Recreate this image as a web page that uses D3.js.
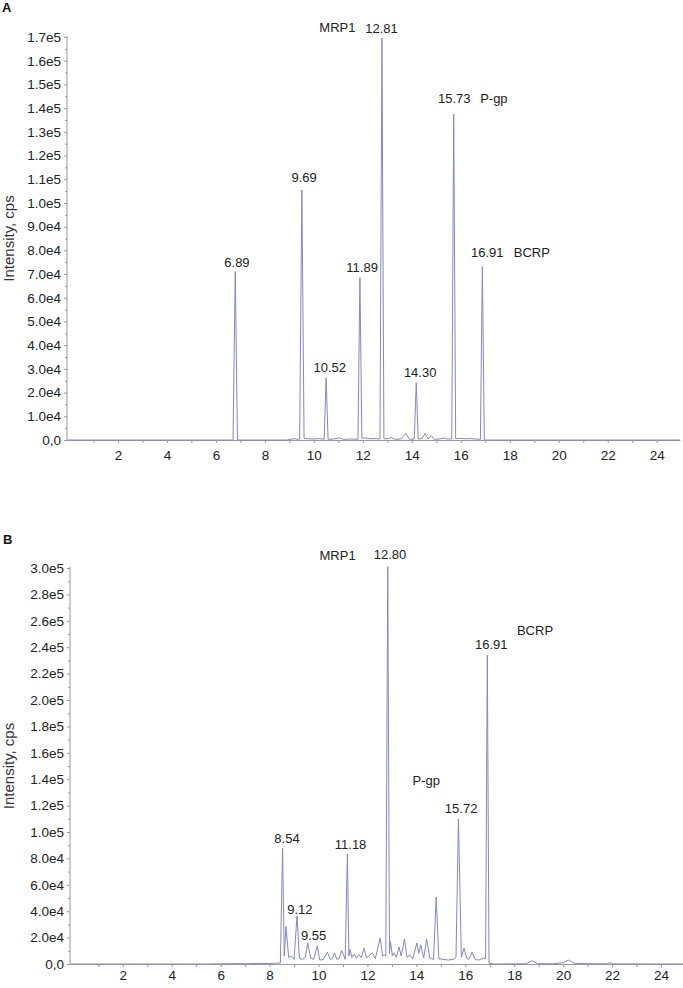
<!DOCTYPE html>
<html>
<head>
<meta charset="utf-8">
<script src="https://cdn.jsdelivr.net/npm/d3@7"></script>
<style>
  body { margin: 0; background: #fff; }
  svg { display: block; font-family: "Liberation Sans", Arial, sans-serif; }
  .axis path, .axis line { stroke: #9a9a9a; }
  .axis text { fill: #222; font-size: 13.5px; }
</style>
</head>
<body>
<svg id="chart" width="683" height="988"></svg>
<script>
// chromatogram A: [time (min), intensity (cps)]
const traceA = [
  [-0.08, 0], [6.70, 0], [6.79, 71000], [6.88, 0],
  [8.9, 0], [9.2, 600], [9.3, 300], [9.42, 500], [9.51, 105500], [9.60, 800],
  [9.8, 500], [10.0, 400], [10.2, 600], [10.42, 300], [10.50, 26300], [10.58, 300],
  [10.8, 400], [11.05, 900], [11.2, 300], [11.5, 400], [11.80, 300], [11.88, 68500],
  [11.96, 700], [12.1, 900], [12.3, 500], [12.5, 600], [12.70, 400], [12.78, 169500],
  [12.86, 500], [13.05, 600], [13.15, 1000], [13.3, 300], [13.55, 400], [13.76, 2700],
  [13.9, 300], [14.10, 400], [14.18, 24200], [14.26, 400], [14.42, 600], [14.54, 2800],
  [14.66, 500], [14.80, 1800], [14.92, 300], [15.1, 400], [15.3, 900], [15.45, 400],
  [15.63, 500], [15.71, 137500], [15.79, 500], [16.0, 700], [16.2, 500], [16.4, 600],
  [16.6, 400], [16.80, 300], [16.88, 73100], [16.96, 0], [18, 0], [24.95, 0]
]

// chromatogram B
const traceB = [
  [-0.16, 0], [5.5, 0], [6.5, 300], [7.0, 200], [7.5, 400], [7.9, 300], [8.2, 500],
  [8.44, 800], [8.53, 87700], [8.60, 6000], [8.67, 28400], [8.78, 5000], [8.90, 6000],
  [9.0, 3500], [9.12, 36500], [9.22, 4000], [9.35, 3500], [9.46, 5000], [9.56, 15900],
  [9.68, 4500], [9.80, 3500], [9.95, 13800], [10.05, 3000], [10.2, 3500], [10.36, 9000],
  [10.48, 3500], [10.56, 4000], [10.65, 8300], [10.75, 3500], [10.85, 4500], [10.95, 10300],
  [11.09, 3500], [11.18, 83400], [11.24, 6000], [11.29, 11000], [11.36, 5000], [11.45, 7500],
  [11.55, 4500], [11.65, 7000], [11.75, 5000], [11.86, 12000], [11.96, 4500], [12.05, 6000],
  [12.2, 8500], [12.32, 4000], [12.52, 19700], [12.62, 6000], [12.68, 7000], [12.75, 6000],
  [12.83, 301000], [12.90, 8000], [12.94, 17100], [13.02, 6000], [13.09, 8500], [13.18, 5000],
  [13.29, 12900], [13.38, 6000], [13.51, 18900], [13.62, 5000], [13.74, 6700], [13.85, 4000],
  [14.02, 15900], [14.10, 8000], [14.18, 14600], [14.30, 4500], [14.42, 18900], [14.55, 4500],
  [14.70, 3500], [14.81, 50700], [14.92, 4000], [15.1, 3500], [15.3, 3000], [15.5, 3500],
  [15.62, 5000], [15.72, 109700], [15.84, 5000], [15.95, 12100], [16.05, 4500], [16.15, 3500],
  [16.28, 9100], [16.40, 3500], [16.55, 3000], [16.74, 4500], [16.83, 4000], [16.90, 234000],
  [16.97, 500], [17.2, 0], [18.5, 200], [18.72, 2500], [18.95, 300], [19.6, 200], [20.0, 1000],
  [20.22, 3000], [20.45, 500], [21.0, 200], [21.8, 200], [21.92, 1000], [22.05, 100], [24.9, 0]
]

// annotations: text, time, intensity of the text baseline
const labelsA = [
  ['6.89', 6.86, 73100], ['9.69', 9.60, 108900], ['10.52', 10.65, 28700],
  ['11.89', 11.97, 71000], ['12.81', 12.76, 171700], ['MRP1', 10.96, 172000],
  ['14.30', 14.34, 26700], ['15.73', 15.73, 142200], ['P-gp', 17.35, 142200],
  ['16.91', 17.08, 77200], ['BCRP', 18.9, 77200]
]
const labelsB = [
  ['MRP1', 10.78, 305800], ['12.80', 12.92, 306600], ['BCRP', 18.85, 249000],
  ['16.91', 17.06, 239000], ['P-gp', 14.40, 135600], ['15.72', 15.83, 114500],
  ['8.54', 8.71, 91800], ['11.18', 11.31, 87200], ['9.12', 9.24, 38000],
  ['9.55', 9.80, 17900]
]

const xTicks = d3.range(1, 25)
const xTickLabels = [2, 4, 6, 8, 10, 12, 14, 16, 18, 20, 22, 24]
const yTicksA = [0, 1e4, 2e4, 3e4, 4e4, 5e4, 6e4, 7e4, 8e4, 9e4, 1e5, 1.1e5, 1.2e5, 1.3e5, 1.4e5, 1.5e5, 1.6e5, 1.7e5]
const yTicksB = [0, 2e4, 4e4, 6e4, 8e4, 1e5, 1.2e5, 1.4e5, 1.6e5, 1.8e5, 2e5, 2.2e5, 2.4e5, 2.6e5, 2.8e5, 3e5]

const svg = d3.select('#chart')
const sci = d3.format('.1e')
const fmtY = v => (v === 0 ? '0,0' : sci(v).replace('+', ''))

const drawPanel = p => {
  const x = d3.scaleLinear().domain(p.xDomain).range(p.xRange)
  const y = d3.scaleLinear().domain([0, p.yMax]).range(p.yRange)
  const g = svg.append('g')

  // minor y ticks halfway between the labelled ones
  const step = p.yTicks[1] - p.yTicks[0]
  const minor = p.yTicks.slice(0, -1).map(v => v + step / 2)

  g.append('g')
    .attr('class', 'axis')
    .attr('transform', `translate(${p.xRange[0]},0)`)
    .call(d3.axisLeft(y).tickValues(minor).tickSize(2).tickFormat(''))
    .select('.domain').remove()

  g.append('g')
    .attr('class', 'axis')
    .attr('transform', `translate(${p.xRange[0]},0)`)
    .call(d3.axisLeft(y).tickValues(p.yTicks).tickSize(3).tickSizeOuter(0).tickPadding(3).tickFormat(fmtY))
    .select('.domain').attr('d', `M0,${p.yRange[0]}V${p.yRange[1] - 1}`)

  g.append('g')
    .attr('class', 'axis')
    .attr('transform', `translate(0,${p.yRange[0]})`)
    .call(
      d3.axisBottom(x).tickValues(xTicks).tickSize(3).tickSizeOuter(0).tickPadding(p.xPad)
        .tickFormat(d => (xTickLabels.includes(d) ? d : ''))
    )

  g.append('path')
    .datum(p.trace)
    .attr('fill', 'none')
    .attr('stroke', '#8588c0')
    .attr('stroke-width', 1)
    .attr('d', d3.line().x(d => x(d[0])).y(d => y(d[1])))

  g.selectAll('text.peak')
    .data(p.labels)
    .enter()
    .append('text')
    .attr('class', 'peak')
    .attr('x', d => x(d[1]))
    .attr('y', d => y(d[2]))
    .attr('text-anchor', 'middle')
    .attr('font-size', 13)
    .attr('fill', '#222')
    .text(d => d[0])

  const mid = (p.yRange[0] + p.yRange[1]) / 2
  g.append('text')
    .attr('transform', `translate(14,${mid}) rotate(-90)`)
    .attr('text-anchor', 'middle')
    .attr('font-size', 15)
    .attr('fill', '#333')
    .text('Intensity, cps')

  g.append('text')
    .attr('x', p.tag[1])
    .attr('y', p.tag[2])
    .attr('font-size', 13)
    .attr('font-weight', 'bold')
    .attr('fill', '#111')
    .text(p.tag[0])
}

drawPanel({
  trace: traceA, labels: labelsA, yTicks: yTicksA, yMax: 1.7e5,
  xDomain: [-0.08, 24.95], xRange: [67, 680], yRange: [440, 37], xPad: 7, tag: ['A', 2, 12]
})
drawPanel({
  trace: traceB, labels: labelsB, yTicks: yTicksB, yMax: 3e5,
  xDomain: [-0.16, 24.9], xRange: [70, 683], yRange: [964, 568], xPad: 3.5, tag: ['B', 3, 544]
})
</script>
</body>
</html>
